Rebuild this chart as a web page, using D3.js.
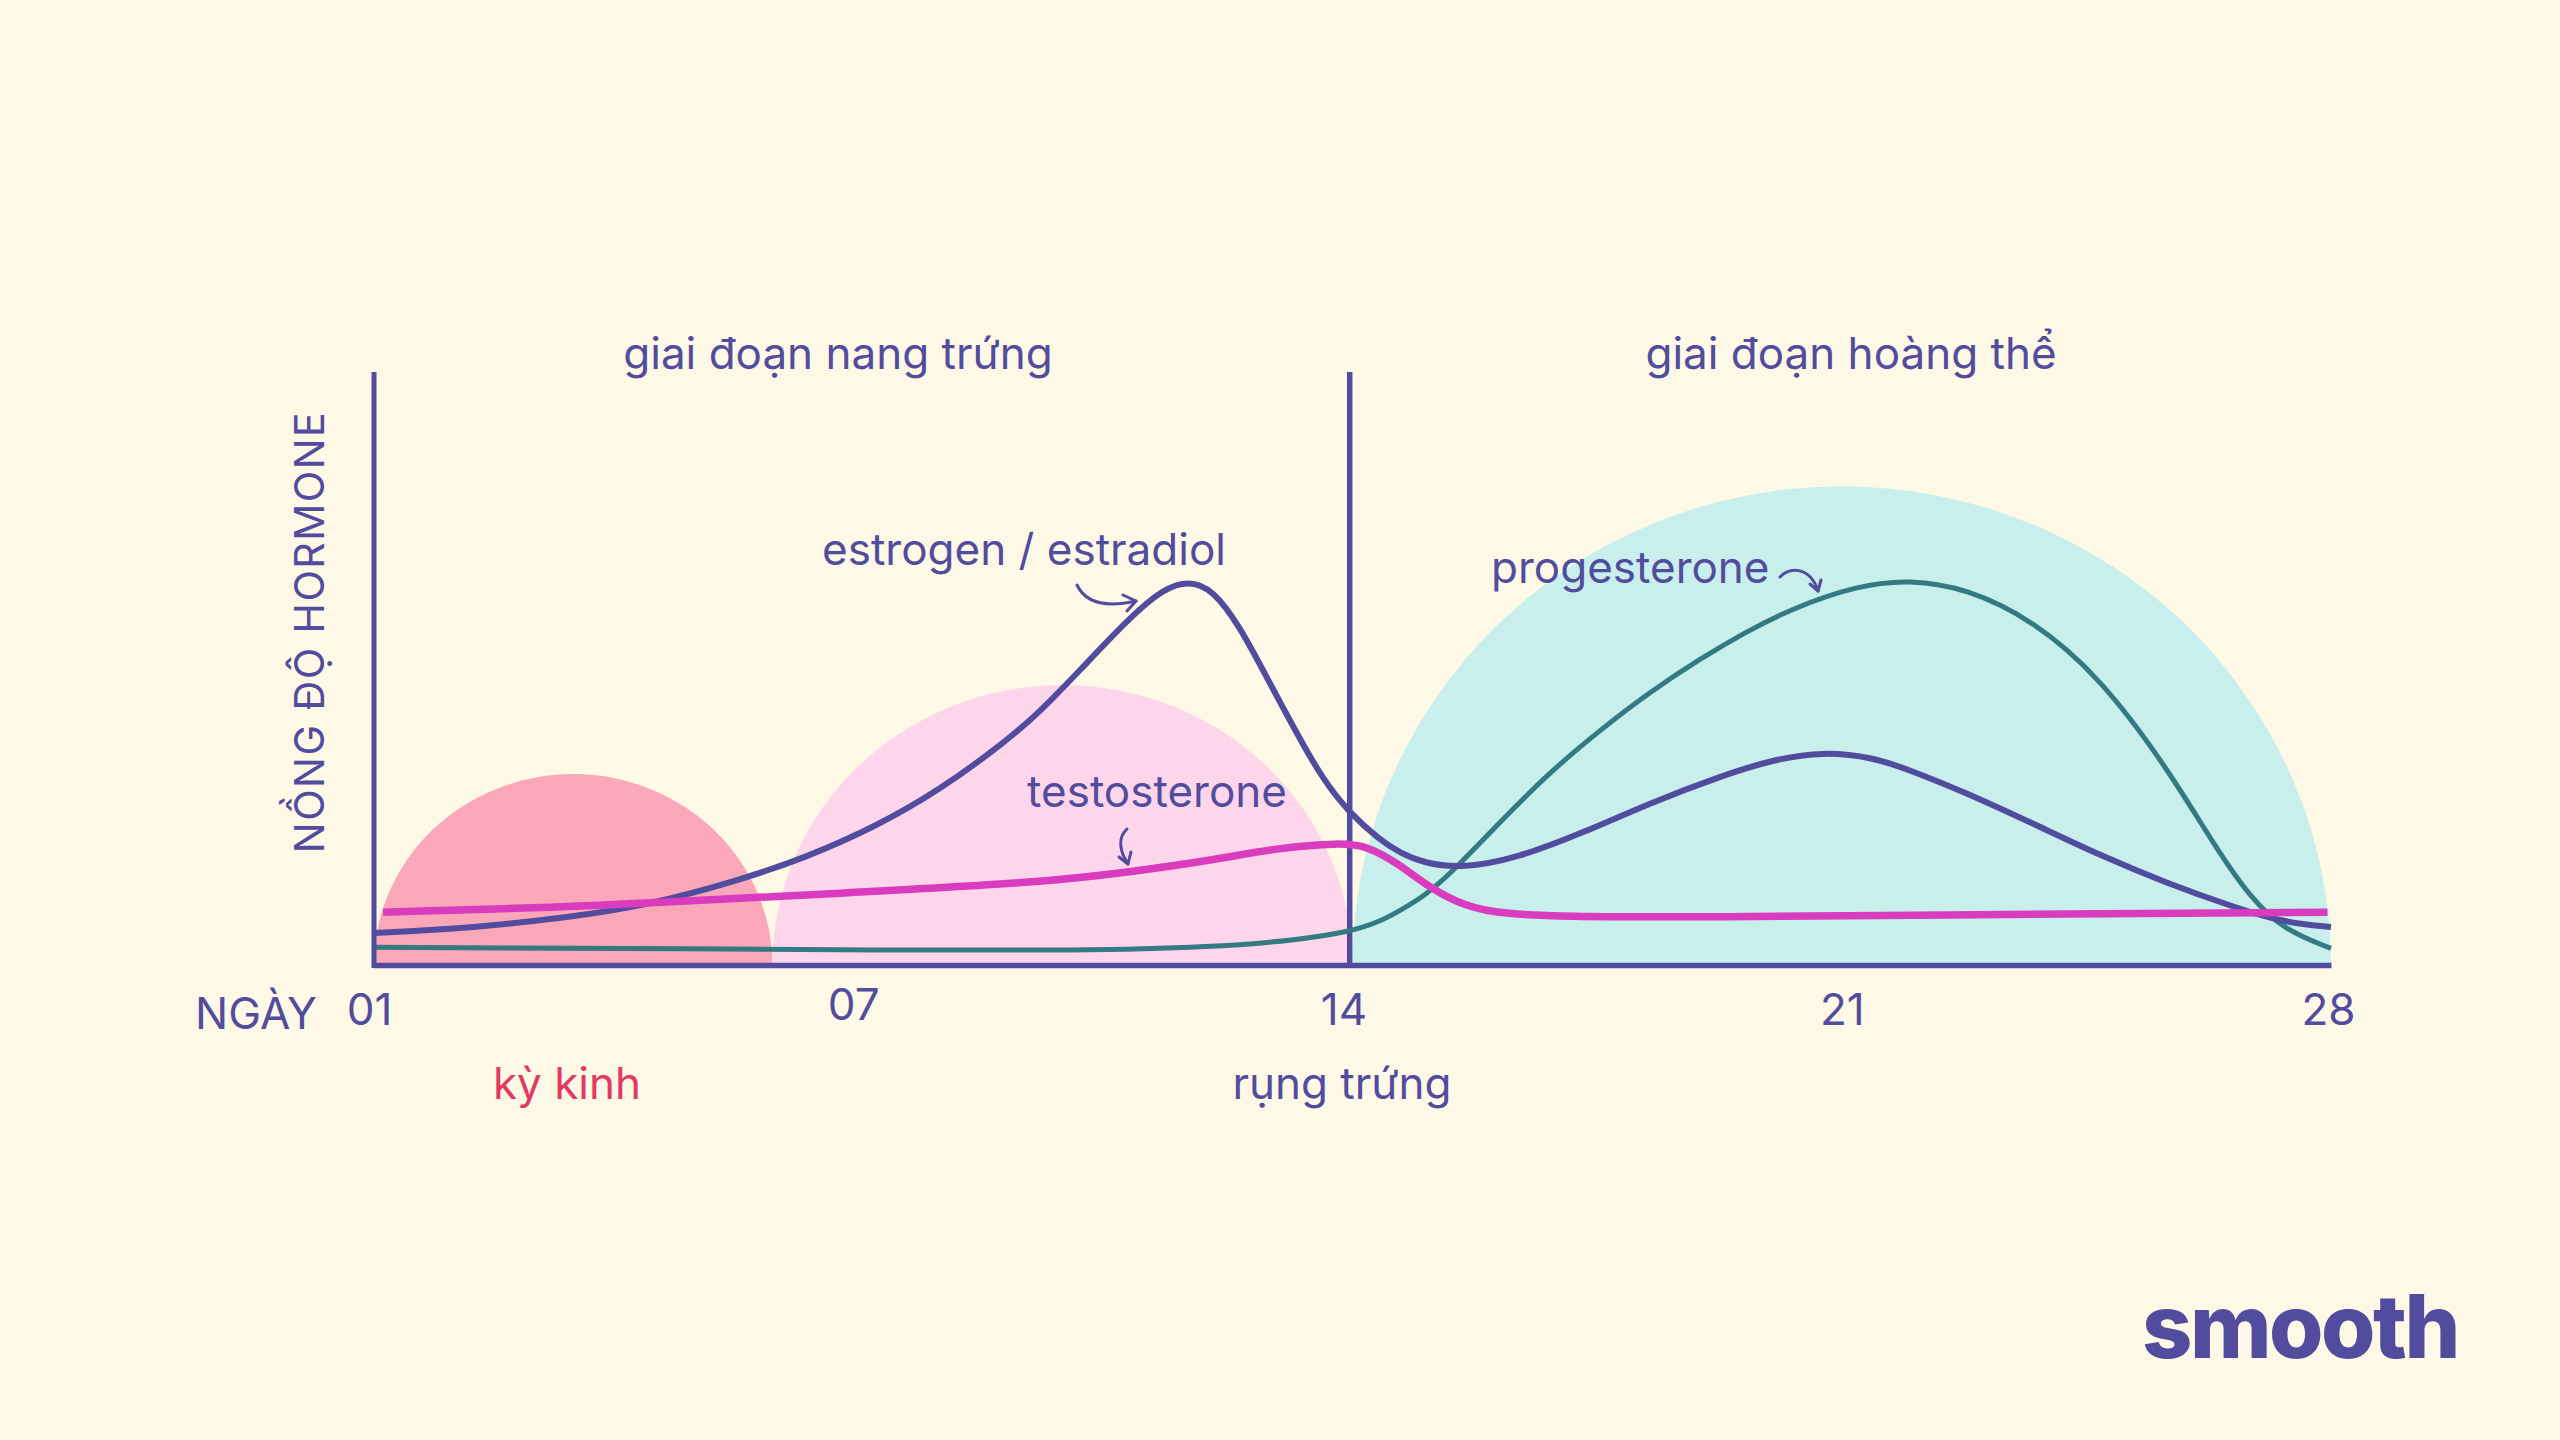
<!DOCTYPE html>
<html>
<head>
<meta charset="utf-8">
<script src="https://cdn.jsdelivr.net/npm/d3@7"></script>
<style>
  html, body { margin: 0; padding: 0; background: #FEF9E6; }
  svg { display: block; }
  text { font-family: Inter, "Noto Sans", sans-serif; }
</style>
</head>
<body>
<svg id="chart" width="2560" height="1440"></svg>
<script>
// ---- data ----
const tickDays = [0, 7, 14, 21, 28];
const tickLabels = ["01", "07", "14", "21", "28"];

const phaseNames = ["kỳ kinh", "nang", "hoàng thể"];
const phaseStart = [0.0, 5.7, 14.0];
const phaseEnd   = [5.7, 14.0, 28.0];
const phasePeak  = [32.2, 47.2, 80.7];

const estrogenDays = [0, 1.37, 2.8, 3.81, 5.24, 6.19, 7.14, 8.1, 9.06, 9.53, 10.1, 10.82, 11.29, 11.65, 12.0, 12.39, 12.72, 13.2, 13.58, 13.96, 14.39, 14.68, 15.01, 15.58, 16.35, 17.3, 18.25, 19.3, 20.01, 20.73, 21.45, 21.97, 22.79, 23.73, 24.69, 25.65, 26.6, 27.31, 28];
const estrogenVals = [5.4, 6.2, 8.1, 9.8, 14.3, 18.2, 23.1, 29.5, 37.9, 42.7, 49.7, 58.7, 63.4, 64.8, 63.4, 57.0, 49.7, 39.1, 31.2, 25.6, 21.1, 18.9, 17.2, 16.3, 18.0, 22.3, 27.3, 32.0, 34.6, 36.0, 35.0, 32.9, 29.0, 23.9, 18.5, 13.8, 9.8, 7.2, 6.4];

const progesteroneDays = [0, 3.5, 7.38, 10.1, 12.0, 13.2, 13.96, 14.39, 14.68, 15.01, 15.39, 16.1, 16.82, 17.54, 18.25, 18.97, 19.6, 20.26, 21.22, 21.97, 22.79, 23.73, 24.69, 25.65, 26.37, 26.84, 27.31, 28];
const progesteroneVals = [3.0, 2.8, 2.5, 2.4, 3.0, 4.2, 5.6, 7.3, 9.2, 11.5, 15.2, 24.0, 32.5, 39.6, 46.0, 51.6, 56.0, 60.0, 64.0, 65.0, 63.5, 58.2, 48.6, 33.4, 19.4, 11.5, 6.0, 2.8];

const testosteroneDays = [0.13, 2.8, 3.81, 6.67, 9.53, 10.82, 12.0, 12.96, 13.82, 14.21, 14.68, 15.01, 15.49, 15.97, 16.92, 19.3, 21.97, 27.95];
const testosteroneVals = [8.9, 9.8, 10.4, 12.1, 13.9, 15.7, 17.7, 19.8, 20.6, 20.1, 16.9, 13.8, 10.5, 8.8, 8.1, 8.1, 8.4, 8.9];

// ---- styles ----
const C = {
  purple: "#514C9D",
  teal: "#337A82",
  magenta: "#D93CBE",
  red: "#E23A62",
  fills: ["#F9A7B9", "#FDD6EB", "#C8EFEC"]
};

const svg = d3.select("#chart");
svg.append("rect").attr("width", 2560).attr("height", 1440).attr("fill", "#FEF9E6");

const x = d3.scaleLinear().domain([0, 28]).range([374, 2331]);
const y = d3.scaleLinear().domain([0, 100]).range([965, 372]);

// phase half-ellipses
const g = svg.append("g");
phaseStart.forEach((s, i) => {
  const x0 = x(s), x1 = x(phaseEnd[i]);
  const rx = (x1 - x0) / 2, ry = y(0) - y(phasePeak[i]);
  g.append("path")
    .attr("d", `M${x0},${y(0)} A${rx},${ry} 0 0 1 ${x1},${y(0)} Z`)
    .attr("fill", C.fills[i]);
});

// divider at ovulation
g.append("line")
  .attr("x1", x(13.96)).attr("x2", x(13.96))
  .attr("y1", y(100)).attr("y2", y(0))
  .attr("stroke", C.purple).attr("stroke-width", 5.5);

// curves
const line = d3.line().x(d => x(d[0])).y(d => y(d[1])).curve(d3.curveBasis);
const series = [
  { days: progesteroneDays, vals: progesteroneVals, color: C.teal, w: 5 },
  { days: estrogenDays, vals: estrogenVals, color: C.purple, w: 6 },
  { days: testosteroneDays, vals: testosteroneVals, color: C.magenta, w: 7.5 }
];
series.forEach(s => {
  g.append("path")
    .datum(s.days.map((d, i) => [d, s.vals[i]]))
    .attr("d", line)
    .attr("fill", "none")
    .attr("stroke", s.color)
    .attr("stroke-width", s.w);
});

// y axis line
g.append("line")
  .attr("x1", x(0)).attr("x2", x(0))
  .attr("y1", y(100)).attr("y2", y(0) + 3)
  .attr("stroke", C.purple).attr("stroke-width", 5);

// x axis
const xAxis = d3.axisBottom(x).tickValues(tickDays).tickFormat((d, i) => tickLabels[i]).tickSize(0).tickPadding(28);
const ax = svg.append("g").attr("transform", `translate(0,${y(0)})`).call(xAxis);
ax.select(".domain").attr("stroke", C.purple).attr("stroke-width", 5.5);
ax.selectAll("text")
  .attr("font-family", "Inter, sans-serif")
  .attr("font-size", 44)
  .attr("fill", C.purple)
  .attr("dx", (d, i) => [-5, -10, -9, 0, -3][i])
  .attr("dy", (d, i) => i === 1 ? "0.62em" : "0.72em")
  .attr("y", 28);

// texts
const T = (txt, tx, ty, opts = {}) => svg.append("text")
  .attr("x", tx).attr("y", ty)
  .attr("text-anchor", opts.anchor || "middle")
  .attr("font-size", opts.size || 44)
  .attr("font-weight", opts.weight || 400)
  .attr("fill", opts.color || C.purple)
  .attr("transform", opts.transform || null)
  .attr("letter-spacing", opts.ls || null)
  .text(txt);

T("giai đoạn nang trứng", 838, 369);
T("giai đoạn hoàng thể", 1851, 369);
T("NGÀY", 256, 1029);
T("kỳ kinh", 567, 1099, { color: C.red });
T("rụng trứng", 1342, 1099);
T("estrogen / estradiol", 1024, 565);
T("testosterone", 1157, 807);
T("progesterone", 1491, 583, { anchor: "start" });
T("NỒNG ĐỘ HORMONE", 0, 0, { size: 41, ls: 1.5, transform: "translate(324,632) rotate(-90)" });
T("smooth", 2142, 1358, { anchor: "start", size: 88, weight: 800, ls: -2.5 });

// annotation arrows
const arrows = [
  { p: "M1077,585 C1084,600 1100,609 1136,601", h: "M1123,595 L1136,601 L1127,611" },
  { p: "M1127,829 C1117,838 1120,852 1128,864", h: "M1119,857 L1128,864 L1131,852" },
  { p: "M1780,577 C1790,567 1810,566 1818,591", h: "M1810,584 L1818,591 L1821,580" }
];
arrows.forEach(a => {
  svg.append("path").attr("d", a.p).attr("fill", "none").attr("stroke", C.purple).attr("stroke-width", 3).attr("stroke-linecap", "round");
  svg.append("path").attr("d", a.h).attr("fill", "none").attr("stroke", C.purple).attr("stroke-width", 3).attr("stroke-linecap", "round").attr("stroke-linejoin", "round");
});
</script>
</body>
</html>
